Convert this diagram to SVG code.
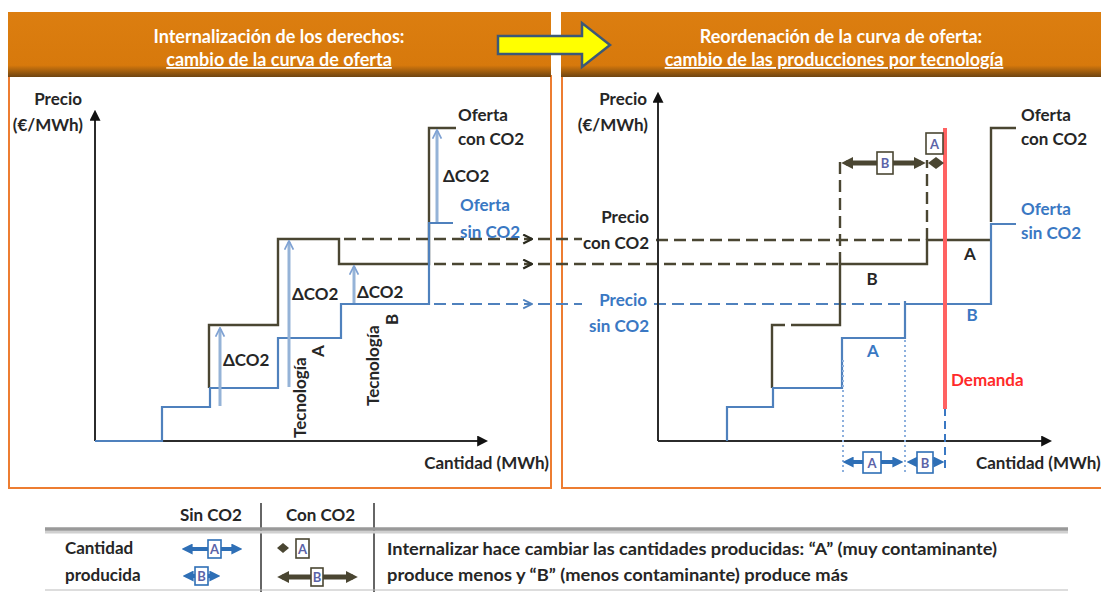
<svg xmlns="http://www.w3.org/2000/svg" width="1101" height="592" viewBox="0 0 1101 592">
<style>
text{font-family:Lato,"Liberation Sans",sans-serif;font-weight:bold;font-size:17px;fill:#262626}
.hd{fill:#fff;font-size:18px;text-anchor:middle}
.bl{fill:#3a78c3}
.rd{fill:#ff2a2a}
.mid{text-anchor:middle}
.end{text-anchor:end}
.bx{font-size:13px;fill:#5b63a8;text-anchor:middle}
.ax{stroke:#2b2b2b;stroke-width:2;fill:none}
.dk{stroke:#4a4632;stroke-width:2.4;fill:none}
.dkd{stroke:#4a4632;stroke-width:2.4;fill:none;stroke-dasharray:12 6}
.bu{stroke:#4f81bd;stroke-width:2.2;fill:none}
.bud{stroke:#4f81bd;stroke-width:2;fill:none;stroke-dasharray:12 6}
.bdot{stroke:#8db0dd;stroke-width:2;fill:none;stroke-dasharray:2 3}
.lt{stroke:#95b3d7;stroke-width:3;fill:none}
.qb{stroke:#2e6fb6;stroke-width:4;fill:none}
.qd{stroke:#4a4632;stroke-width:5;fill:none}
.boxb{fill:#fff;stroke:#2e6fb6;stroke-width:1.6}
.boxd{fill:#fff;stroke:#4a4632;stroke-width:1.6}
</style>
<defs>
<linearGradient id="hdr" x1="0" y1="0" x2="0" y2="1">
<stop offset="0" stop-color="#DC7E10"/>
<stop offset="0.82" stop-color="#D7790C"/>
<stop offset="1" stop-color="#6e4412"/>
</linearGradient>
<marker id="arK" viewBox="0 0 10 10" refX="8" refY="5" markerWidth="11" markerHeight="11" markerUnits="userSpaceOnUse" orient="auto"><path d="M0,0 L10,5 L0,10 Z" fill="#111"/></marker>
<marker id="chD" viewBox="0 0 10 10" refX="9" refY="5" markerWidth="11" markerHeight="11" markerUnits="userSpaceOnUse" orient="auto"><path d="M1,1 L9,5 L1,9" fill="none" stroke="#2a2a1e" stroke-width="2"/></marker>
<marker id="chB" viewBox="0 0 10 10" refX="9" refY="5" markerWidth="11" markerHeight="11" markerUnits="userSpaceOnUse" orient="auto"><path d="M1,1 L9,5 L1,9" fill="none" stroke="#4f81bd" stroke-width="1.6"/></marker>
<marker id="chL" viewBox="0 0 10 10" refX="8" refY="5" markerWidth="11" markerHeight="11" markerUnits="userSpaceOnUse" orient="auto"><path d="M1,1 L9,5 L1,9" fill="none" stroke="#7fa2d3" stroke-width="1.6"/></marker>
<marker id="aQ" viewBox="0 0 10 10" refX="6" refY="5" markerWidth="11" markerHeight="11" markerUnits="userSpaceOnUse" orient="auto-start-reverse"><path d="M0,0 L10,5 L0,10 Z" fill="#2e6fb6"/></marker>
<marker id="aD" viewBox="0 0 10 10" refX="6" refY="5" markerWidth="12" markerHeight="12" markerUnits="userSpaceOnUse" orient="auto-start-reverse"><path d="M0,0 L10,5 L0,10 Z" fill="#4a4632"/></marker>
</defs>
<rect width="1101" height="592" fill="#fff"/>

<g id="panel-left">
<rect x="9" y="76" width="542" height="412" fill="#fff" stroke="#ED7D31" stroke-width="2"/>
<rect x="8" y="12" width="543" height="65" fill="url(#hdr)"/>
<text class="hd" x="279" y="43">Internalización de los derechos:</text>
<text class="hd" x="279" y="66" text-decoration="underline">cambio de la curva de oferta</text>
</g>
<g id="panel-right">
<rect x="562" y="76" width="545" height="412" fill="#fff" stroke="#ED7D31" stroke-width="2"/>
<rect x="561" y="12" width="545" height="65" fill="url(#hdr)"/>
<text class="hd" x="841" y="43">Reordenación de la curva de oferta:</text>
<text class="hd" x="834" y="66" text-decoration="underline">cambio de las producciones por tecnología</text>
</g>
<g id="transition-arrow">
<path d="M498,36 L582,36 L582,23 L610,45 L582,67 L582,54 L498,54 Z" fill="#FFFF00" stroke="#3c5877" stroke-width="2.5" stroke-linejoin="miter"/>
</g>

<g id="connectors">
<line class="ax" x1="95" y1="441" x2="95" y2="112" marker-end="url(#arK)"/>
<line class="ax" x1="95" y1="441" x2="486" y2="441" marker-end="url(#arK)"/>
<polyline class="dk" points="209,388 209,325 278,325 278,239 339,239 339,264 429,264 429,128 456,128"/>
<polyline class="bu" points="95,441 162,441 162,407 210,407 210,388 278,388 278,338 341,338 341,304 429,304 429,223 453,223"/>
<line class="lt" x1="220" y1="406" x2="220" y2="329" marker-end="url(#chL)"/>
<line class="lt" x1="289" y1="387" x2="289" y2="242" marker-end="url(#chL)"/>
<line class="lt" x1="354" y1="303" x2="354" y2="267" marker-end="url(#chL)"/>
<line class="lt" x1="437" y1="222" x2="437" y2="131" marker-end="url(#chL)"/>
<line class="dkd" x1="344" y1="239" x2="532" y2="239" marker-end="url(#chD)"/>
<line class="dkd" x1="538" y1="239" x2="582" y2="239"/>
<line class="dkd" x1="656" y1="240" x2="927" y2="240"/>
<line class="dkd" x1="434" y1="264" x2="532" y2="264" marker-end="url(#chD)"/>
<line class="dkd" x1="538" y1="264" x2="840" y2="264"/>
<line class="bud" x1="434" y1="304" x2="532" y2="304" marker-end="url(#chB)"/>
<line class="bud" x1="538" y1="304" x2="582" y2="304"/>
<line class="bud" x1="654" y1="304" x2="905" y2="304"/>
<line class="ax" x1="658" y1="441" x2="658" y2="94" marker-end="url(#arK)"/>
<line class="ax" x1="658" y1="441" x2="1050" y2="441" marker-end="url(#arK)"/>
<polyline class="dk" points="772,388 772,325 785,325"/>
<polyline class="dk" points="791,325 840,325 840,264 927,264 927,240 991,240"/>
<polyline class="dk" points="991,222 991,128 1016,128"/>
<line class="dkd" x1="840" y1="264" x2="840" y2="160" stroke-dasharray="10 5"/>
<line class="dkd" x1="927" y1="240" x2="927" y2="160" stroke-dasharray="10 5"/>
<polyline class="bu" points="727,441 727,407 773,407 773,388 842,388 842,338 905,338 905,301"/>
<polyline class="bu" points="905,304 991,304 991,224 1016,224"/>
<line class="bdot" x1="843" y1="360" x2="843" y2="472"/>
<line class="bdot" x1="905" y1="340" x2="905" y2="472"/>
<line x1="945" y1="408" x2="945" y2="472" stroke="#3a78c3" stroke-width="2" stroke-dasharray="8 5"/>
<line x1="945" y1="128" x2="945" y2="409" stroke="#ff6262" stroke-width="4"/>
<line class="qd" x1="846" y1="163" x2="921" y2="163" marker-start="url(#aD)" marker-end="url(#aD)"/>
<path d="M928,163 L936,157 L944,163 L936,169 Z" fill="#4a4632"/>
<line class="qb" x1="847" y1="462" x2="899" y2="462" marker-start="url(#aQ)" marker-end="url(#aQ)"/>
<line class="qb" x1="911" y1="462" x2="940" y2="462" marker-start="url(#aQ)" marker-end="url(#aQ)"/>
</g>

<g id="boxes">
<rect class="boxd" x="877" y="152" width="16" height="22"/>
<text class="bx" x="885" y="168">B</text>
<rect class="boxd" x="926" y="133" width="17" height="21"/>
<text class="bx" x="934.5" y="149">A</text>
<rect class="boxb" x="863" y="452" width="18" height="21"/>
<text class="bx" x="872" y="468">A</text>
<rect class="boxb" x="917" y="452" width="16" height="21"/>
<text class="bx" x="925" y="468">B</text>
</g>

<g id="labels-left">
<text class="end" x="82" y="105">Precio</text>
<text class="end" x="83" y="131">(€/MWh)</text>
<text x="458" y="121">Oferta</text>
<text x="458" y="145">con CO2</text>
<text class="bl" x="460" y="211">Oferta</text>
<text class="bl" x="460" y="238">sin CO2</text>
<text x="443" y="182">ΔCO2</text>
<text x="223" y="366">ΔCO2</text>
<text x="292" y="300">ΔCO2</text>
<text x="357" y="298">ΔCO2</text>
<text transform="translate(306,438) rotate(-90)">Tecnología</text>
<text transform="translate(324,357) rotate(-90)">A</text>
<text transform="translate(379,406) rotate(-90)">Tecnología</text>
<text transform="translate(398,325) rotate(-90)">B</text>
<text class="end" x="549" y="469">Cantidad (MWh)</text>
</g>

<g id="labels-right">
<text class="end" x="647" y="105">Precio</text>
<text class="end" x="648" y="131">(€/MWh)</text>
<text class="end" x="649" y="223">Precio</text>
<text class="end" x="649" y="249">con CO2</text>
<text class="end bl" x="647" y="306">Precio</text>
<text class="end bl" x="649" y="332">sin CO2</text>
<text x="1021" y="121">Oferta</text>
<text x="1021" y="145">con CO2</text>
<text class="bl" x="1021" y="215">Oferta</text>
<text class="bl" x="1021" y="239">sin CO2</text>
<text class="mid" x="970" y="260">A</text>
<text class="mid" x="872" y="285">B</text>
<text class="mid bl" x="972" y="321">B</text>
<text class="mid bl" x="873" y="357">A</text>
<text class="rd" x="951" y="386">Demanda</text>
<text x="976" y="469">Cantidad (MWh)</text>
</g>

<g id="legend">
<line x1="261" y1="503" x2="261" y2="592" stroke="#333" stroke-width="1.5"/>
<line x1="374" y1="503" x2="374" y2="592" stroke="#333" stroke-width="1.5"/>
<line x1="45" y1="532" x2="1068" y2="532" stroke="#d0d0d0" stroke-width="3"/>
<line x1="45" y1="529" x2="1068" y2="529" stroke="#999" stroke-width="3.5"/>
<line x1="45" y1="590" x2="1068" y2="590" stroke="#bbb" stroke-width="1"/>
<text x="180" y="521">Sin CO2</text>
<text x="286" y="521">Con CO2</text>
<text x="65" y="554">Cantidad</text>
<text x="65" y="581">producida</text>
<line class="qb" x1="186" y1="549" x2="238" y2="549" marker-start="url(#aQ)" marker-end="url(#aQ)"/>
<rect class="boxb" x="208" y="540" width="13" height="18"/>
<text class="bx" x="214.5" y="554">A</text>
<line class="qb" x1="187" y1="576" x2="216" y2="576" marker-start="url(#aQ)" marker-end="url(#aQ)"/>
<rect class="boxb" x="195" y="567" width="13" height="18"/>
<text class="bx" x="201.5" y="581">B</text>
<path d="M277,548 L283,543 L289,548 L283,553 Z" fill="#4a4632"/>
<rect class="boxd" x="296" y="539" width="13" height="19"/>
<text class="bx" x="302.5" y="554">A</text>
<line class="qd" x1="282" y1="577" x2="353" y2="577" marker-start="url(#aD)" marker-end="url(#aD)"/>
<rect class="boxd" x="311" y="568" width="12" height="18"/>
<text class="bx" x="317" y="582">B</text>
<text x="387" y="555" textLength="610" lengthAdjust="spacingAndGlyphs">Internalizar hace cambiar las cantidades producidas: “A” (muy contaminante)</text>
<text x="387" y="581" textLength="461" lengthAdjust="spacingAndGlyphs">produce menos y “B” (menos contaminante) produce más</text>
</g>
</svg>
